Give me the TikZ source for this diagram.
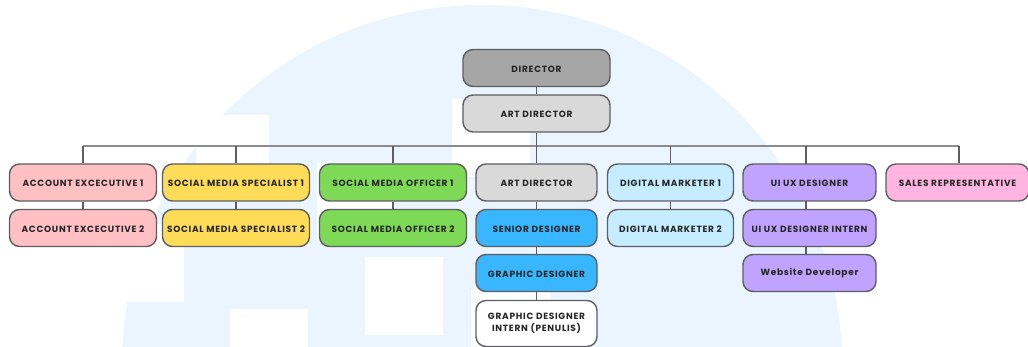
\documentclass[tikz,border=0pt]{standalone}
\usepackage{fontspec}
\setmainfont{Poppins}[BoldFont={* Bold}]
\definecolor{bgblue}{HTML}{EAF5FF}
\definecolor{edge}{HTML}{5E5E62}
\definecolor{cDir}{HTML}{A6A6A6}
\definecolor{cArt}{HTML}{D9D9D9}
\definecolor{cPink}{HTML}{FFC0C4}
\definecolor{cYel}{HTML}{FFDC58}
\definecolor{cGrn}{HTML}{7ED957}
\definecolor{cBlue}{HTML}{38B6FF}
\definecolor{cIce}{HTML}{C6EDFF}
\definecolor{cVio}{HTML}{BFA3FF}
\definecolor{cRose}{HTML}{FFB5E0}
\tikzset{
 x=1pt,y=-1pt,
 card/.style={draw=edge,line width=1.4pt,rounded corners=10pt,anchor=center,align=center,
   inner sep=0pt,minimum height=37pt,text=black!85,font=\fontsize{9pt}{12pt}\selectfont\bfseries,execute at begin node={\addfontfeature{LetterSpace=8}}},
 twoline/.style={minimum height=46pt,yshift=0pt},
 link/.style={draw=edge,line width=1.1pt},
 bus/.style={draw=black!45,line width=1.3pt},
 hole/.style={fill=white,draw=none},
}
\begin{document}
\begin{tikzpicture}
\useasboundingbox (0,0) rectangle (1028,347);
\begin{scope}
\clip (0,0) rectangle (1028,347);
\fill[bgblue] (482,365) circle (360);
\fill[hole] (106,224) rectangle (184,302);
\fill[hole] (196,115) rectangle (269,193);
\fill[hole] (230,309) rectangle (308,387);
\fill[hole] (317,163) rectangle (394,242);
\fill[hole] (365,257) rectangle (443,335);
\fill[hole] (452,99) rectangle (530,177);
\fill[hole] (471,289) rectangle (550,367);
\end{scope}
\coordinate (busL) at (83,146);
\coordinate (busR) at (959,146);
\draw[bus] (busL) -- (busR);
\coordinate (uiTop) at (806,146);
\coordinate (uiA) at (806,201);
\coordinate (uiB) at (806,209);
\coordinate (uiC) at (806,247);
\coordinate (uiD) at (806,255);
\coordinate (uiE) at (806,164);
\node[card,text height=8.2pt,fill=cDir,minimum width=147pt] (dir) at (536.5,68) {DIRECTOR};
\node[card,text height=8.2pt,fill=cArt,minimum width=147pt] (art) at (536.5,113.5) {ART DIRECTOR};
\node[card,text height=8.2pt,fill=cPink,minimum width=147pt] (ae1) at (83,182.5) {ACCOUNT EXCECUTIVE 1};
\node[card,text height=8.2pt,fill=cPink,minimum width=147pt] (ae2) at (83,228) {ACCOUNT EXCECUTIVE 2};
\node[card,text height=8.2pt,fill=cYel,minimum width=147pt] (sm1) at (236,182.5) {SOCIAL MEDIA SPECIALIST 1};
\node[card,text height=8.2pt,fill=cYel,minimum width=147pt] (sm2) at (236,228) {SOCIAL MEDIA SPECIALIST 2};
\node[card,text height=8.2pt,fill=cGrn,minimum width=147pt] (so1) at (393,182.5) {SOCIAL MEDIA OFFICER 1};
\node[card,text height=8.2pt,fill=cGrn,minimum width=147pt] (so2) at (393,228) {SOCIAL MEDIA OFFICER 2};
\node[card,text height=8.2pt,fill=cArt,minimum width=121pt] (ad2) at (536.5,182.5) {ART DIRECTOR};
\node[card,text height=8.2pt,fill=cBlue,minimum width=121pt] (sd) at (536.5,228) {SENIOR DESIGNER};
\node[card,text height=8.2pt,fill=cBlue,minimum width=121pt] (gd) at (536.5,273) {GRAPHIC DESIGNER};
\node[card,twoline,fill=white,minimum width=121pt] (gi) at (536.5,323.5) {GRAPHIC DESIGNER\\INTERN (PENULIS)};
\node[card,text height=8.2pt,fill=cIce,minimum width=126pt] (dm1) at (670.5,182.5) {DIGITAL MARKETER 1};
\node[card,text height=8.2pt,fill=cIce,minimum width=126pt] (dm2) at (670.5,228) {DIGITAL MARKETER 2};
\node[card,text height=8.2pt,fill=cVio,minimum width=133pt] (ui1) at (809.5,182.5) {UI UX DESIGNER};
\node[card,text height=8.2pt,fill=cVio,minimum width=133pt] (ui2) at (809.5,228) {UI UX DESIGNER INTERN};
\node[card,text height=8.2pt,fill=cVio,minimum width=133pt] (wd) at (809.5,273) {Website Developer};
\node[card,text height=8.2pt,fill=cRose,minimum width=143pt] (sr) at (957.5,182.5) {SALES REPRESENTATIVE};
\draw[link] (ae1.north) -- (busL);
\draw[link] (sr.north -| busR) -- (busR);
\foreach \n in {sm1,so1,dm1} {\draw[link] (\n.north) -- (\n.north |- busL);}
\draw[link] (uiE) -- (uiTop);
\draw[link] (art.south) -- (ad2.north);
\draw[link] (dir) -- (art);
\draw[link] (ae1) -- (ae2);
\draw[link] (sm1) -- (sm2);
\draw[link] (so1) -- (so2);
\draw[link] (ad2) -- (sd);
\draw[link] (sd) -- (gd);
\draw[link] (gd) -- (gi);
\draw[link] (dm1) -- (dm2);
\draw[link] (uiA) -- (uiB);
\draw[link] (uiC) -- (uiD);
\end{tikzpicture}
\end{document}
